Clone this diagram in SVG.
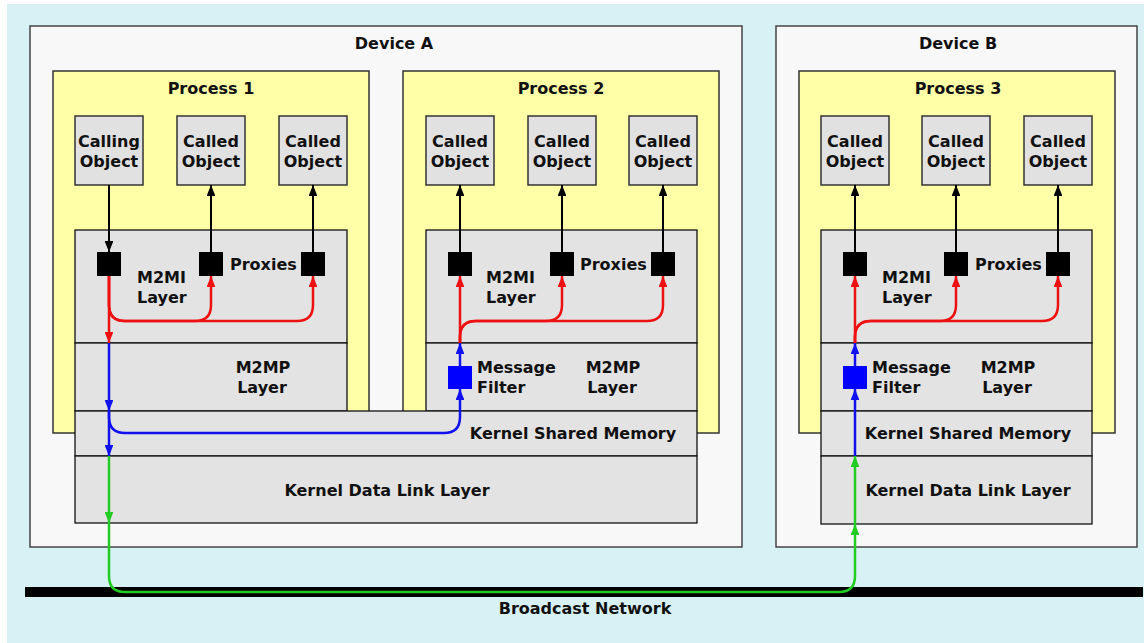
<svg xmlns="http://www.w3.org/2000/svg" width="1144" height="643" viewBox="0 0 1144 643">
<defs>
<style>
text{font-family:"DejaVu Sans","Liberation Sans",sans-serif;font-weight:bold;font-size:16px;fill:#111}
.c{text-anchor:middle}
.dev{fill:#f8f8f8;stroke:#444;stroke-width:1.5}
.proc{fill:#ffffa8;stroke:#333;stroke-width:1.5}
.obj{fill:#e1e1e1;stroke:#333;stroke-width:1.5}
.lay{fill:#e3e3e3;stroke:#111;stroke-width:1.3}
.prx{fill:#000}
.flt{fill:#0000ff}
.k{fill:none;stroke:#000;stroke-width:2;marker-end:url(#ak)}
.r{fill:none;stroke:#ee1111;stroke-width:2.5;marker-end:url(#ar)}
.b{fill:none;stroke:#1111ee;stroke-width:2.5;marker-end:url(#ab)}
.g{fill:none;stroke:#22cc22;stroke-width:2.5;marker-end:url(#ag)}
</style>
<marker id="ak" viewBox="0 0 10 8" refX="10" refY="4" markerWidth="11" markerHeight="8.8" orient="auto" markerUnits="userSpaceOnUse"><path d="M0,0 L10,4 L0,8 z" fill="#000"/></marker>
<marker id="ar" viewBox="0 0 10 8" refX="10" refY="4" markerWidth="11" markerHeight="8.8" orient="auto" markerUnits="userSpaceOnUse"><path d="M0,0 L10,4 L0,8 z" fill="#ee1111"/></marker>
<marker id="ab" viewBox="0 0 10 8" refX="10" refY="4" markerWidth="11" markerHeight="8.8" orient="auto" markerUnits="userSpaceOnUse"><path d="M0,0 L10,4 L0,8 z" fill="#1111ee"/></marker>
<marker id="ag" viewBox="0 0 10 8" refX="10" refY="4" markerWidth="11" markerHeight="8.8" orient="auto" markerUnits="userSpaceOnUse"><path d="M0,0 L10,4 L0,8 z" fill="#22cc22"/></marker>
</defs>
<rect x="0" y="0" width="1144" height="643" fill="#ffffff"/>
<rect x="7" y="4" width="1137" height="639" fill="#d7f1f4"/>

<g id="device-a">
<rect class="dev" x="30" y="26" width="712" height="521"/>
<text class="c" x="394" y="49">Device A</text>
</g>
<g id="device-b">
<rect class="dev" x="776" y="26" width="361" height="521"/>
<text class="c" x="958" y="49">Device B</text>
</g>

<g id="process-1">
<rect class="proc" x="53" y="71" width="316" height="362"/>
<text class="c" x="211" y="94">Process 1</text>
</g>
<g id="process-2">
<rect class="proc" x="403" y="71" width="316" height="362"/>
<text class="c" x="561" y="94">Process 2</text>
</g>
<g id="process-3">
<rect class="proc" x="799" y="71" width="316" height="362"/>
<text class="c" x="958" y="94">Process 3</text>
</g>

<g id="p1-calling-object"><rect class="obj" x="75" y="116" width="68" height="69"/><text class="c" x="109" y="147">Calling</text><text class="c" x="109" y="167">Object</text></g>
<g id="p1-called-object-1"><rect class="obj" x="177" y="116" width="68" height="69"/><text class="c" x="211" y="147">Called</text><text class="c" x="211" y="167">Object</text></g>
<g id="p1-called-object-2"><rect class="obj" x="279" y="116" width="68" height="69"/><text class="c" x="313" y="147">Called</text><text class="c" x="313" y="167">Object</text></g>
<g id="p2-called-object-1"><rect class="obj" x="426" y="116" width="68" height="69"/><text class="c" x="460" y="147">Called</text><text class="c" x="460" y="167">Object</text></g>
<g id="p2-called-object-2"><rect class="obj" x="528" y="116" width="68" height="69"/><text class="c" x="562" y="147">Called</text><text class="c" x="562" y="167">Object</text></g>
<g id="p2-called-object-3"><rect class="obj" x="629" y="116" width="68" height="69"/><text class="c" x="663" y="147">Called</text><text class="c" x="663" y="167">Object</text></g>
<g id="p3-called-object-1"><rect class="obj" x="821" y="116" width="68" height="69"/><text class="c" x="855" y="147">Called</text><text class="c" x="855" y="167">Object</text></g>
<g id="p3-called-object-2"><rect class="obj" x="922" y="116" width="68" height="69"/><text class="c" x="956" y="147">Called</text><text class="c" x="956" y="167">Object</text></g>
<g id="p3-called-object-3"><rect class="obj" x="1024" y="116" width="68" height="69"/><text class="c" x="1058" y="147">Called</text><text class="c" x="1058" y="167">Object</text></g>

<g id="p1-m2mi-layer"><rect class="lay" x="75" y="230" width="272" height="113"/><text x="137" y="283">M2MI</text><text x="137" y="303">Layer</text><text x="230" y="270">Proxies</text></g>
<g id="p1-m2mp-layer"><rect class="lay" x="75" y="343" width="272" height="68"/><text class="c" x="263" y="373">M2MP</text><text class="c" x="262" y="393">Layer</text></g>
<g id="p2-m2mi-layer"><rect class="lay" x="426" y="230" width="271" height="113"/><text x="486" y="283">M2MI</text><text x="486" y="303">Layer</text><text x="580" y="270">Proxies</text></g>
<g id="p2-m2mp-layer"><rect class="lay" x="426" y="343" width="271" height="68"/><text class="c" x="613" y="373">M2MP</text><text class="c" x="612" y="393">Layer</text><text x="477" y="373">Message</text><text x="477" y="393">Filter</text></g>
<g id="a-kernel-shared-memory"><rect class="lay" x="75" y="411" width="622" height="45"/><text class="c" x="573" y="439">Kernel Shared Memory</text></g>
<g id="a-kernel-data-link"><rect class="lay" x="75" y="456" width="622" height="67"/><text class="c" x="387" y="496">Kernel Data Link Layer</text></g>

<g id="p3-m2mi-layer"><rect class="lay" x="821" y="230" width="271" height="113"/><text x="882" y="283">M2MI</text><text x="882" y="303">Layer</text><text x="975" y="270">Proxies</text></g>
<g id="p3-m2mp-layer"><rect class="lay" x="821" y="343" width="271" height="68"/><text class="c" x="1008" y="373">M2MP</text><text class="c" x="1007" y="393">Layer</text><text x="872" y="373">Message</text><text x="872" y="393">Filter</text></g>
<g id="b-kernel-shared-memory"><rect class="lay" x="821" y="411" width="271" height="45"/><text class="c" x="968" y="439">Kernel Shared Memory</text></g>
<g id="b-kernel-data-link"><rect class="lay" x="821" y="456" width="271" height="68"/><text class="c" x="968" y="496">Kernel Data Link Layer</text></g>

<g id="broadcast-network">
<rect x="25" y="587" width="1118" height="10" fill="#000"/>
<text class="c" x="585" y="614">Broadcast Network</text>
</g>

<g id="connectors">
<path class="k" d="M109,185 V252"/>
<path class="k" d="M211,252 V185"/>
<path class="k" d="M313,252 V185"/>
<path class="k" d="M460,252 V185"/>
<path class="k" d="M562,252 V185"/>
<path class="k" d="M663,252 V185"/>
<path class="k" d="M855,252 V185"/>
<path class="k" d="M956,252 V185"/>
<path class="k" d="M1058,252 V185"/>

<path class="r" d="M109,276 V343"/>
<path class="r" d="M109,276 V305 Q109,321 125,321 H195 Q211,321 211,305 V276"/>
<path class="r" d="M109,276 V305 Q109,321 125,321 H297 Q313,321 313,305 V276"/>

<path class="r" d="M460,343 V276"/>
<path class="r" d="M460,343 V337 Q460,321 476,321 H546 Q562,321 562,305 V276"/>
<path class="r" d="M460,343 V337 Q460,321 476,321 H647 Q663,321 663,305 V276"/>

<path class="r" d="M855,343 V276"/>
<path class="r" d="M855,343 V337 Q855,321 871,321 H940 Q956,321 956,305 V276"/>
<path class="r" d="M855,343 V337 Q855,321 871,321 H1042 Q1058,321 1058,305 V276"/>

<path class="b" d="M109,343 V411"/>
<path class="b" d="M109,411 V456"/>
<path class="b" d="M109,411 V417 Q109,433 125,433 H444 Q460,433 460,417 V389"/>
<path class="b" d="M460,366 V343"/>
<path class="b" d="M855,456 V389"/>
<path class="b" d="M855,366 V343"/>

<path class="g" d="M109,456 V523"/>
<path class="g" d="M109,523 V576 Q109,592 125,592 H839 Q855,592 855,576 V524"/>
<path class="g" d="M855,524 V456"/>
</g>

<g id="proxies">
<rect class="prx" x="97" y="252" width="24" height="24"/>
<rect class="prx" x="199" y="252" width="24" height="24"/>
<rect class="prx" x="301" y="252" width="24" height="24"/>
<rect class="prx" x="448" y="252" width="24" height="24"/>
<rect class="prx" x="550" y="252" width="24" height="24"/>
<rect class="prx" x="651" y="252" width="24" height="24"/>
<rect class="prx" x="843" y="252" width="24" height="24"/>
<rect class="prx" x="944" y="252" width="24" height="24"/>
<rect class="prx" x="1046" y="252" width="24" height="24"/>
</g>
<g id="message-filters">
<rect class="flt" x="448" y="366" width="24" height="23"/>
<rect class="flt" x="843" y="366" width="24" height="23"/>
</g>
</svg>
